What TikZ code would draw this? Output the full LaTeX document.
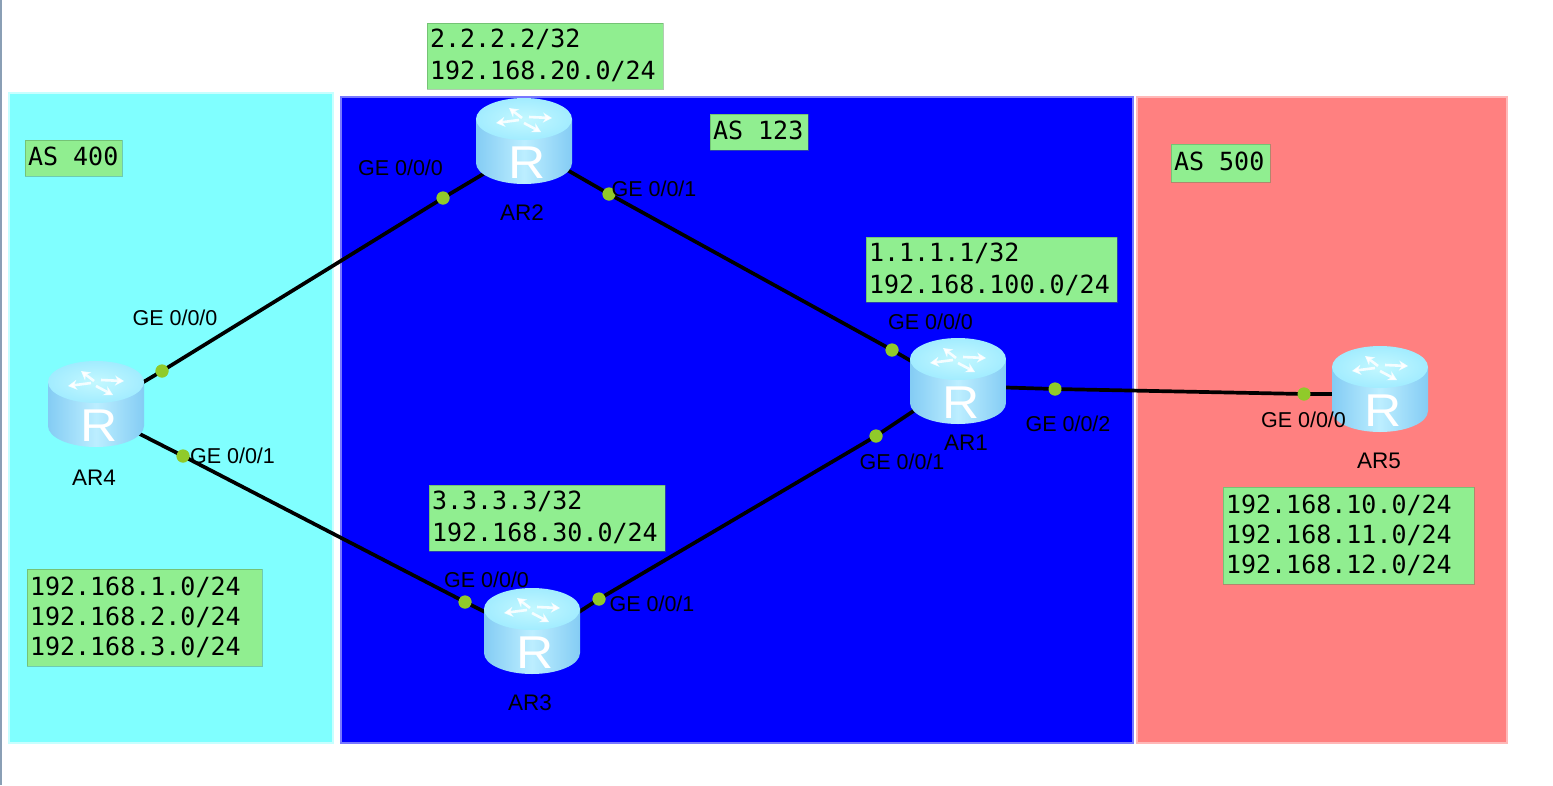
\documentclass[tikz,border=0pt]{standalone}
\usepackage{fontspec}
\setmainfont{Liberation Sans}
\newfontfamily\monofam{DejaVu Sans Mono}
\usetikzlibrary{arrows.meta}
\definecolor{cyanreg}{HTML}{80FFFF}
\definecolor{cyanedge}{HTML}{C8FFFF}
\definecolor{bluereg}{HTML}{0000FF}
\definecolor{blueedge}{HTML}{7878FF}
\definecolor{redreg}{HTML}{FF8080}
\definecolor{rededge}{HTML}{FFB8B8}
\definecolor{notegreen}{HTML}{90EE90}
\definecolor{dotgreen}{HTML}{90CA2A}
\definecolor{rsideA}{HTML}{84CCF4}
\definecolor{rsideB}{HTML}{BCEEFF}
\definecolor{rtopA}{HTML}{A2ECFF}
\definecolor{rtopB}{HTML}{C4F8FF}
\definecolor{leftbar}{HTML}{8A9FB5}
\newcommand{\liftone}{\rule[-3pt]{0pt}{1pt}}
\newcommand{\lifttwo}{\rule[-4pt]{0pt}{1pt}}
\tikzset{
  x=1pt,y=-1pt,
  region/.style={draw=#1,line width=1.5pt,anchor=north west,inner sep=0pt,outer sep=0pt},
  notebox/.style={fill=notegreen,draw=notegreen!60!black,draw opacity=.45,line width=1pt,anchor=north west,inner xsep=3pt,inner ysep=0pt,outer sep=0pt,align=flush left,
    font=\monofam\fontsize{25}{30}\selectfont,text=black},
  twoline/.style={font=\monofam\fontsize{25}{32}\selectfont},
  port/.style={circle,fill=dotgreen,draw=none,minimum size=13pt,inner sep=0pt},
  iflabel/.style={font=\fontsize{21.5}{24}\selectfont,text=black,inner sep=0pt},
  arlabel/.style={font=\fontsize{22.5}{24}\selectfont,text=black,inner sep=0pt},
  link/.style={line width=3.7pt,draw=black},
  routerbody/.style={minimum width=96pt,minimum height=86pt,inner sep=0pt},
  rarrow/.style={draw=white,draw opacity=.85,line width=2.6pt,-{Stealth[length=9pt,width=10pt]}},
}
\newcommand{\routericon}[3]{%
  \node[routerbody] (#1) at (#2,#3) {};
  \begin{scope}[shift={(#2,#3)}]
    \path[left color=rsideA,right color=rsideA,middle color=rsideB]
      (-48,-22) -- (-48,22) arc[start angle=180,end angle=360,x radius=48pt,y radius=21pt] -- (48,-22) -- cycle;
    \path[inner color=rtopB,outer color=rtopA] (0,-22) ellipse[x radius=48pt,y radius=21pt];
    \draw[rarrow] (-2,-23) -- (-15,-33);
    \draw[rarrow] (5,-24) -- (28,-23);
    \draw[rarrow] (-5,-21) -- (-28,-18);
    \draw[rarrow] (0,-18) -- (17,-9);
    \node[text=white,inner sep=0pt,font=\fontsize{46}{46}\selectfont,xscale=1.12] (#1-R) at (3,22) {R};
  \end{scope}%
}
\begin{document}
\begin{tikzpicture}
\useasboundingbox (0,0) rectangle (1553,785);
\fill[white] (0,0) rectangle (1553,785);
\fill[leftbar] (0,0) rectangle (2,785);
% regions
\node[region=cyanedge,fill=cyanreg,minimum width=324pt,minimum height=650pt] (as400) at (9,93) {};
\node[region=blueedge,fill=bluereg,minimum width=792pt,minimum height=646pt] (as123) at (341,97) {};
\node[region=rededge,fill=redreg,minimum width=370pt,minimum height=646pt] (as500) at (1137,97) {};
% ports
\node[port] (p4a) at (162,371) {};
\node[port] (p2a) at (443,198) {};
\node[port] (p4b) at (183,456) {};
\node[port] (p3a) at (465,602) {};
\node[port] (p2b) at (609,194) {};
\node[port] (p1a) at (892,350) {};
\node[port] (p3b) at (599,599) {};
\node[port] (p1b) at (876,436) {};
\node[port] (p1c) at (1055,389) {};
\node[port] (p5a) at (1304,394) {};
% router anchors for links
\coordinate (r4up) at (130,390);
\coordinate (r2lo) at (495,167);
\coordinate (r4lo) at (130,429);
\coordinate (r3up) at (495,617);
\coordinate (r2ro) at (555,163);
\coordinate (r1up) at (925,369);
\coordinate (r3ro) at (565,621);
\coordinate (r1lo) at (930,400);
\coordinate (r1ri) at (990,387);
\coordinate (r5le) at (1350,394);
% links
\draw[link] (r4up) -- (p4a.center) -- (p2a.center) -- (r2lo);
\draw[link] (r4lo) -- (p4b.center) -- (p3a.center) -- (r3up);
\draw[link] (r2ro) -- (p2b.center) -- (p1a.center) -- (r1up);
\draw[link] (r3ro) -- (p3b.center) -- (p1b.center) -- (r1lo);
\draw[link] (r1ri) -- (p1c.center) -- (p5a.center) -- (r5le);
% port dots over links
\foreach \n in {p4a,p2a,p4b,p3a,p2b,p1a,p3b,p1b,p1c,p5a}{\fill[dotgreen] (\n.center) circle[radius=6.5pt];}
% routers
\routericon{ar2}{524}{141}
\routericon{ar1}{958}{381}
\routericon{ar3}{532}{631}
\routericon{ar4}{96}{404}
\routericon{ar5}{1380}{389}
% router labels
\node[arlabel] (lar2) at (522,213) {AR2};
\node[arlabel] (lar1) at (966,443) {AR1};
\node[arlabel] (lar3) at (530,703) {AR3};
\node[arlabel] (lar4) at (94,478) {AR4};
\node[arlabel] (lar5) at (1379,461) {AR5};
% interface labels
\node[iflabel] (i1) at (400.5,168) {GE 0/0/0};
\node[iflabel] (i2) at (654,189) {GE 0/0/1};
\node[iflabel] (i3) at (175,318) {GE 0/0/0};
\node[iflabel] (i4) at (232.5,456) {GE 0/0/1};
\node[iflabel] (i5) at (930.5,322) {GE 0/0/0};
\node[iflabel] (i6) at (902,462) {GE 0/0/1};
\node[iflabel] (i7) at (1068,424) {GE 0/0/2};
\node[iflabel] (i8) at (1303.5,420) {GE 0/0/0};
\node[iflabel] (i9) at (486.5,580) {GE 0/0/0};
\node[iflabel] (i10) at (652,604) {GE 0/0/1};
% notes
\node[notebox,twoline,minimum width=236pt,minimum height=66pt,text width=230pt] (n2) at (427,23) {2.2.2.2/32\\192.168.20.0/24\liftone};
\node[notebox,minimum width=98pt,minimum height=36pt,text width=92pt] (n123) at (710,114) {AS 123\lifttwo};
\node[notebox,minimum width=97pt,minimum height=36pt,text width=91pt] (n400) at (25,140) {AS 400\lifttwo};
\node[notebox,minimum width=99pt,minimum height=38pt,text width=93pt] (n500) at (1171,144) {AS 500\lifttwo};
\node[notebox,twoline,minimum width=251pt,minimum height=65pt,text width=245pt] (n1) at (866,237) {1.1.1.1/32\\192.168.100.0/24};
\node[notebox,twoline,minimum width=236pt,minimum height=66pt,text width=230pt] (n3) at (429,485) {3.3.3.3/32\\192.168.30.0/24\lifttwo};
\node[notebox,minimum width=235pt,minimum height=97pt,text width=229pt] (n4) at (27,569) {192.168.1.0/24\\192.168.2.0/24\\192.168.3.0/24};
\node[notebox,minimum width=251pt,minimum height=97pt,text width=245pt] (n5) at (1223,487) {192.168.10.0/24\\192.168.11.0/24\\192.168.12.0/24};
\end{tikzpicture}
\end{document}
